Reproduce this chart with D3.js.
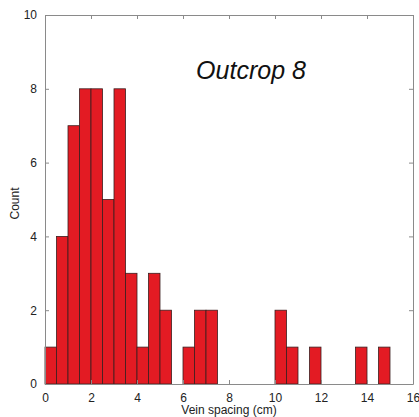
<!DOCTYPE html>
<html>
<head>
<meta charset="utf-8">
<script src="https://cdn.jsdelivr.net/npm/d3@7"></script>
<style>
  html, body { margin: 0; padding: 0; background: #fff; }
  svg { display: block; font-family: "Liberation Sans", Arial, Helvetica, sans-serif; }
</style>
</head>
<body>
<svg id="chart" width="419" height="417"></svg>
<script>
// Bin edges (left edges, cm); bin width 0.5 cm
const binStarts = [0, 0.5, 1, 1.5, 2, 2.5, 3, 3.5, 4, 4.5, 5, 5.5, 6, 6.5, 7, 7.5,
                   8, 8.5, 9, 9.5, 10, 10.5, 11, 11.5, 12, 12.5, 13, 13.5, 14, 14.5];
const counts    = [1, 4, 7, 8, 8, 5, 8, 3, 1, 3, 2, 0, 1, 2, 2, 0,
                   0, 0, 0, 0, 2, 1, 0, 1, 0, 0, 0, 1, 0, 1];
const binWidth = 0.5;
const xTicks = [0, 2, 4, 6, 8, 10, 12, 14, 16];
const yTicks = [0, 2, 4, 6, 8, 10];
const title = "Outcrop 8";
const xLabel = "Vein spacing (cm)";
const yLabel = "Count";

const svg = d3.select("#chart");
const L = 45, R = 413, T = 15, B = 384;
const x = d3.scaleLinear().domain([0, 16]).range([L, R]);
const y = d3.scaleLinear().domain([0, 10]).range([B, T]);
const axisColor = "#8a8a8a";
const textColor = "#222";

// bars
const data = binStarts.map((s, i) => ({ s, c: counts[i] })).filter(d => d.c > 0);
svg.append("g").selectAll("rect").data(data).join("rect")
  .attr("x", d => x(d.s))
  .attr("y", d => y(d.c))
  .attr("width", d => x(d.s + binWidth) - x(d.s))
  .attr("height", d => y(0) - y(d.c))
  .attr("fill", "#e31b23")
  .attr("stroke", "#3a2020")
  .attr("stroke-width", 0.8);

// axes (inward ticks, mirrored box)
function styleAxis(g) {
  g.select(".domain").attr("stroke", axisColor);
  g.selectAll(".tick line").attr("stroke", axisColor);
  g.selectAll(".tick text").attr("fill", textColor).style("font-size", "12px");
}
const tickLen = 4;
svg.append("g").attr("transform", `translate(0,${B})`)
  .call(d3.axisBottom(x).tickValues(xTicks).tickSizeInner(-tickLen).tickSizeOuter(0).tickPadding(5 + tickLen))
  .call(styleAxis);
svg.append("g").attr("transform", `translate(0,${T})`)
  .call(d3.axisTop(x).tickValues(xTicks).tickSizeInner(-tickLen).tickSizeOuter(0).tickFormat(""))
  .call(styleAxis);
svg.append("g").attr("transform", `translate(${L},0)`)
  .call(d3.axisLeft(y).tickValues(yTicks).tickSizeInner(-tickLen).tickSizeOuter(0).tickPadding(4 + tickLen))
  .call(styleAxis);
svg.append("g").attr("transform", `translate(${R},0)`)
  .call(d3.axisRight(y).tickValues(yTicks).tickSizeInner(-tickLen).tickSizeOuter(0).tickFormat(""))
  .call(styleAxis);

// labels
svg.append("text")
  .attr("x", (L + R) / 2).attr("y", 414)
  .attr("text-anchor", "middle")
  .attr("fill", textColor).style("font-size", "12px")
  .text(xLabel);
svg.append("text")
  .attr("transform", `translate(19,${(T + B) / 2 + 4}) rotate(-90)`)
  .attr("text-anchor", "middle")
  .attr("fill", textColor).style("font-size", "12px")
  .text(yLabel);
svg.append("text")
  .attr("x", 251).attr("y", 79)
  .attr("text-anchor", "middle")
  .attr("fill", "#111").style("font-size", "25px").style("font-style", "italic")
  .text(title);
</script>
</body>
</html>
